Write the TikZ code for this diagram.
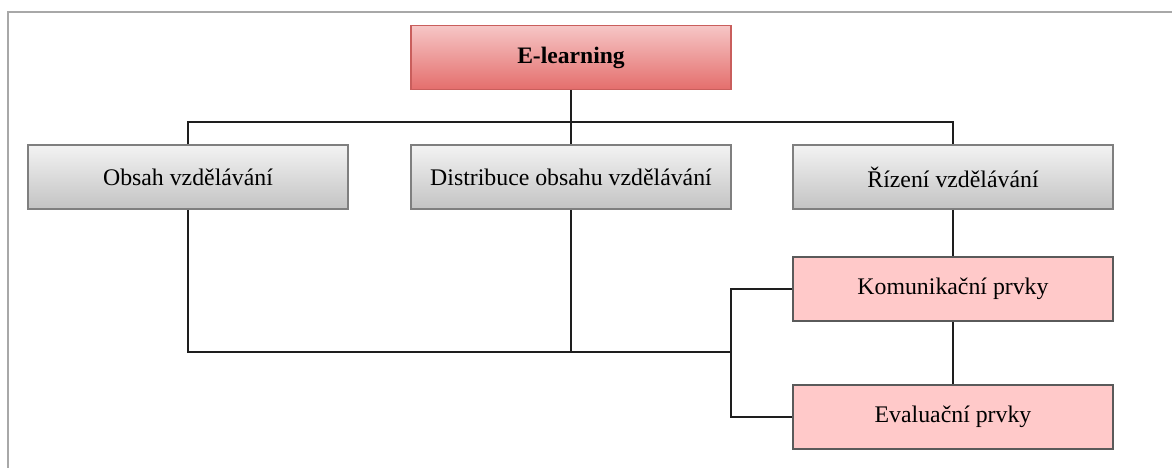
\documentclass[tikz,border=0pt]{standalone}
\usepackage{fontspec}
\setmainfont{Liberation Serif}
\definecolor{frame}{HTML}{A8A8A8}
\definecolor{redtop}{HTML}{F6C6C6}
\definecolor{redbot}{HTML}{E46E6C}
\definecolor{redline}{HTML}{C95E5C}
\definecolor{graytop}{HTML}{F3F3F3}
\definecolor{graybot}{HTML}{C3C3C3}
\definecolor{grayline}{HTML}{7F7F7F}
\definecolor{pinkfill}{HTML}{FFC9C9}
\definecolor{pinkline}{HTML}{5A5A5A}
\definecolor{conn}{HTML}{1E1E1E}
\tikzset{
  box/.style={minimum width=320pt, minimum height=64pt, inner sep=0pt, line width=1.5pt,
    font=\fontsize{23.8}{28}\selectfont},
  topbox/.style={box, draw=redline, top color=redtop, bottom color=redbot, font=\fontsize{23.6}{28}\selectfont\bfseries},
  graybox/.style={box, draw=grayline, top color=graytop, bottom color=graybot},
  pinkbox/.style={box, draw=pinkline, fill=pinkfill},
  link/.style={draw=conn, line width=1.6pt}
}
\begin{document}
\begin{tikzpicture}[x=1pt, y=-1pt]
\useasboundingbox (0,0) rectangle (1172,468);
\fill[white] (0,0) rectangle (1172,468);
\draw[frame, line width=2pt] (8,468) -- (8,12) -- (1172,12);

\node[topbox] (el) at (571,57.5) {E-learning};
\node[graybox] (obsah) at (188,177) {Obsah vzdělávání};
\node[graybox] (dist) at (571,177) {Distribuce obsahu vzdělávání};
\node[graybox] (rizeni) at (953,177) {Řízení vzdělávání};
\node[pinkbox] (kom) at (953,289) {Komunikační prvky};
\node[pinkbox] (eval) at (953,417) {Evaluační prvky};

\coordinate (bus) at (571,122);
\coordinate (low) at (731,352);

\draw[link] (el.south) -- (dist.north);
\draw[link] (obsah.north) -- (obsah.north |- bus) -- (rizeni.north |- bus) -- (rizeni.north);
\draw[link] (rizeni.south) -- (kom.north);
\draw[link] (kom.south) -- (eval.north);
\draw[link] (obsah.south) |- (low);
\draw[link] (dist.south) -- (dist.south |- low);
\draw[link] (kom.west) -- (kom.west -| low) -- (eval.west -| low) -- (eval.west);
\end{tikzpicture}
\end{document}
